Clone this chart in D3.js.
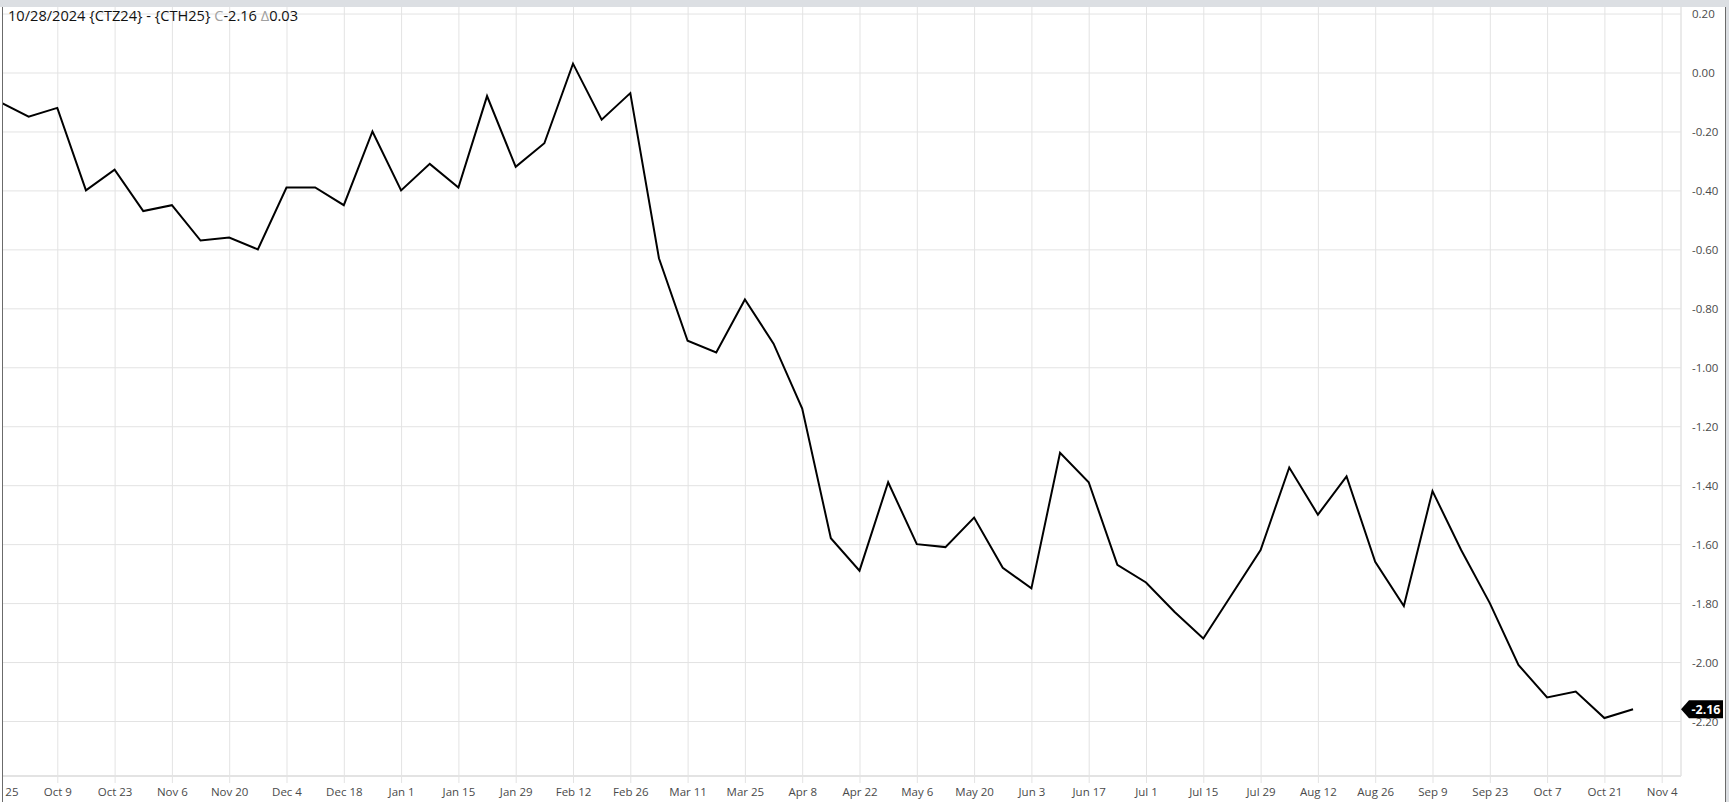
<!DOCTYPE html>
<html>
<head>
<meta charset="utf-8">
<script src="https://cdn.jsdelivr.net/npm/d3@7"></script>
<style>
  html, body { margin: 0; padding: 0; background: #fff; }
  svg { display: block; }
  text { font-family: "Open Sans", "Noto Sans", sans-serif; }
</style>
</head>
<body>
<svg id="chart" width="1729" height="802"></svg>
<script>
// ---- data ----
const weeks = [
  "2023-09-25","2023-10-02","2023-10-09","2023-10-16","2023-10-23","2023-10-30",
  "2023-11-06","2023-11-13","2023-11-20","2023-11-27","2023-12-04","2023-12-11",
  "2023-12-18","2023-12-25","2024-01-01","2024-01-08","2024-01-15","2024-01-22",
  "2024-01-29","2024-02-05","2024-02-12","2024-02-19","2024-02-26","2024-03-04",
  "2024-03-11","2024-03-18","2024-03-25","2024-04-01","2024-04-08","2024-04-15",
  "2024-04-22","2024-04-29","2024-05-06","2024-05-13","2024-05-20","2024-05-27",
  "2024-06-03","2024-06-10","2024-06-17","2024-06-24","2024-07-01","2024-07-08",
  "2024-07-15","2024-07-22","2024-07-29","2024-08-05","2024-08-12","2024-08-19",
  "2024-08-26","2024-09-02","2024-09-09","2024-09-16","2024-09-23","2024-09-30",
  "2024-10-07","2024-10-14","2024-10-21","2024-10-28"
];
const spread = [
  -0.10,-0.15,-0.12,-0.40,-0.33,-0.47,
  -0.45,-0.57,-0.56,-0.60,-0.39,-0.39,
  -0.45,-0.20,-0.40,-0.31,-0.39,-0.08,
  -0.32,-0.24,0.03,-0.16,-0.07,-0.63,
  -0.91,-0.95,-0.77,-0.92,-1.14,-1.58,
  -1.69,-1.39,-1.60,-1.61,-1.51,-1.68,
  -1.75,-1.29,-1.39,-1.67,-1.73,-1.83,
  -1.92,-1.77,-1.62,-1.34,-1.50,-1.37,
  -1.66,-1.81,-1.42,-1.62,-1.80,-2.01,
  -2.12,-2.10,-2.19,-2.16
];
const xTickDates = [
  "2023-09-25","2023-10-09","2023-10-23","2023-11-06","2023-11-20","2023-12-04",
  "2023-12-18","2024-01-01","2024-01-15","2024-01-29","2024-02-12","2024-02-26",
  "2024-03-11","2024-03-25","2024-04-08","2024-04-22","2024-05-06","2024-05-20",
  "2024-06-03","2024-06-17","2024-07-01","2024-07-15","2024-07-29","2024-08-12",
  "2024-08-26","2024-09-09","2024-09-23","2024-10-07","2024-10-21","2024-11-04"
];
const yTicks = [0.20,0.00,-0.20,-0.40,-0.60,-0.80,-1.00,-1.20,-1.40,-1.60,-1.80,-2.00,-2.20];
const headerDate = "10/28/2024";
const headerSymbol = "{CTZ24} - {CTH25}";
const lastClose = -2.16;
const lastChange = 0.03;

// ---- layout ----
const W = 1729, H = 802;
const plot = { left: 3, right: 1681, top: 7, bottom: 776 };
const parse = d3.utcParse("%Y-%m-%d");

const x = d3.scaleUtc()
  .domain([parse("2023-10-09"), parse("2024-11-04")])
  .range([57.3, 1661.7]);
const y = d3.scaleLinear()
  .domain([0, -2.2])
  .range([72.5, 721]);

const svg = d3.select("#chart");

svg.append("rect").attr("x", 0).attr("y", 0).attr("width", W).attr("height", H).attr("fill", "#fff");

const defs = svg.append("defs");
defs.append("clipPath").attr("id", "plotclip")
  .append("rect")
  .attr("x", plot.left).attr("y", plot.top)
  .attr("width", plot.right - plot.left).attr("height", plot.bottom - plot.top);
defs.append("clipPath").attr("id", "axisclip")
  .append("rect")
  .attr("x", plot.left).attr("y", plot.top)
  .attr("width", W - plot.left - 6).attr("height", H - plot.top);

// horizontal grid + y labels
const yAxisGrid = d3.axisRight(y)
  .tickValues(yTicks)
  .tickSize(0)
  .tickFormat(d => d.toFixed(2));
const gy = svg.append("g")
  .attr("transform", `translate(${plot.right},0)`)
  .call(yAxisGrid);
gy.select(".domain").remove();
gy.selectAll(".tick line").remove();
gy.selectAll(".tick").insert("line", "text")
  .attr("x1", plot.left - plot.right).attr("x2", 0)
  .attr("y1", 0).attr("y2", 0)
  .attr("stroke", "#e3e3e3").attr("stroke-width", 1);
gy.selectAll(".tick text")
  .attr("x", 11)
  .attr("dy", "0.35em")
  .attr("text-anchor", "start")
  .attr("fill", "#4a4a4a")
  .attr("font-size", 11.5)
  .attr("font-family", "'Open Sans', sans-serif");

// vertical grid + x labels
const xAxis = d3.axisBottom(x)
  .tickValues(xTickDates.map(parse))
  .tickSize(0)
  .tickFormat(d3.utcFormat("%b %-d"));
const gx = svg.append("g")
  .attr("clip-path", "url(#axisclip)")
  .append("g")
  .attr("transform", `translate(0,${plot.bottom})`)
  .call(xAxis);
gx.select(".domain").remove();
gx.selectAll(".tick").insert("line", "text")
  .attr("x1", 0).attr("x2", 0)
  .attr("y1", plot.top - plot.bottom).attr("y2", 7)
  .attr("stroke", "#e3e3e3").attr("stroke-width", 1);
gx.selectAll(".tick text")
  .attr("y", 20)
  .attr("dy", "0")
  .attr("fill", "#4a4a4a")
  .attr("font-size", 11.5)
  .attr("font-family", "'Open Sans', sans-serif");

// plot frame (bottom + right)
svg.append("line")
  .attr("x1", plot.left).attr("x2", plot.right)
  .attr("y1", plot.bottom).attr("y2", plot.bottom)
  .attr("stroke", "#e3e3e3").attr("stroke-width", 2);
svg.append("line")
  .attr("x1", plot.right).attr("x2", plot.right)
  .attr("y1", plot.top).attr("y2", plot.bottom)
  .attr("stroke", "#e3e3e3").attr("stroke-width", 1.5);

// the line
const pts = weeks.map((d, i) => ({ date: parse(d), v: spread[i] }));
const line = d3.line().x(d => x(d.date)).y(d => y(d.v));
svg.append("path")
  .datum(pts)
  .attr("clip-path", "url(#plotclip)")
  .attr("d", line)
  .attr("fill", "none")
  .attr("stroke", "#000")
  .attr("stroke-width", 2)
  .attr("stroke-linejoin", "miter");

// last value tag
const ly = y(lastClose);
const tag = svg.append("g").attr("transform", `translate(${plot.right},${ly})`);
tag.append("path")
  .attr("d", "M0,0 L8,-9 L42,-9 L42,9 L8,9 Z")
  .attr("fill", "#000");
tag.append("text")
  .attr("x", 25).attr("y", 0).attr("dy", "0.36em")
  .attr("text-anchor", "middle")
  .attr("fill", "#fff")
  .attr("font-weight", "bold")
  .attr("font-size", 12.5)
  .text(lastClose.toFixed(2));

// top band and borders
svg.append("rect").attr("x", 0).attr("y", 0).attr("width", W).attr("height", 7).attr("fill", "#dcdfe3");
svg.append("line").attr("x1", 2.5).attr("x2", 2.5).attr("y1", 7).attr("y2", H)
  .attr("stroke", "#6b6b6b").attr("stroke-width", 1);
svg.append("rect").attr("x", 1726).attr("y", 0).attr("width", 3).attr("height", H).attr("fill", "#dcdfe3");
svg.append("line").attr("x1", 1725.5).attr("x2", 1725.5).attr("y1", 7).attr("y2", H)
  .attr("stroke", "#6b6b6b").attr("stroke-width", 1);

// header
const header = svg.append("text")
  .attr("x", 8).attr("y", 21)
  .attr("font-size", 14.6)
  .attr("fill", "#111");
header.append("tspan").text(headerDate + " " + headerSymbol + " ");
header.append("tspan").attr("fill", "#a0a0a0").text("C");
header.append("tspan").text(lastClose.toFixed(2) + " ");
header.append("tspan").attr("fill", "#a0a0a0").text("\u0394");
header.append("tspan").text(lastChange.toFixed(2));
</script>
</body>
</html>
